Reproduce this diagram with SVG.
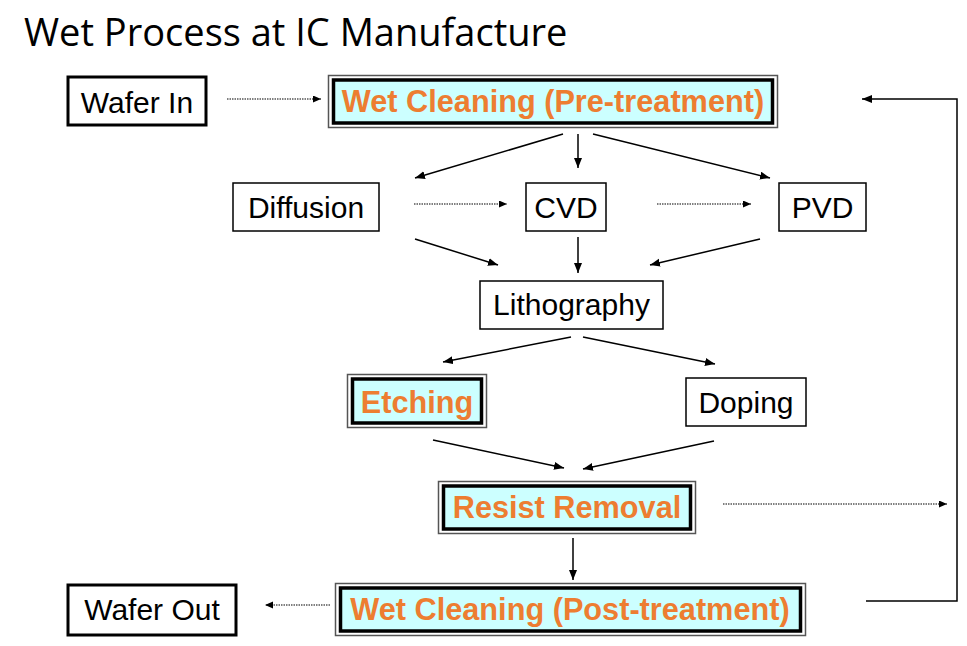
<svg xmlns="http://www.w3.org/2000/svg" width="967" height="646" viewBox="0 0 967 646">
  <style>
    .title { font-family: "Open Sans", "Noto Sans", sans-serif; font-size: 38px; fill: #000; }
    .lbl { font-family: "Liberation Sans", Arial, sans-serif; font-size: 30px; fill: #000; text-anchor: middle; }
    .hl { font-family: "Liberation Sans", Arial, sans-serif; font-size: 30.7px; font-weight: bold; fill: #ED7D31; text-anchor: middle; }
    .box { fill: #fff; stroke: #000; stroke-width: 1.5; }
    .boxb { fill: #fff; stroke: #000; stroke-width: 3; }
    .outer { fill: #fff; stroke: #555; stroke-width: 1.5; }
    .inner { fill: #CCFFFF; stroke: #000; stroke-width: 3.5; }
    .ln { fill: none; stroke: #000; stroke-width: 1.5; marker-end: url(#ah); }
    .dot { fill: none; stroke: #000; stroke-width: 1.2; stroke-dasharray: 1.5 1; marker-end: url(#ahs); }
  </style>
  <defs>
    <marker id="ah" markerUnits="userSpaceOnUse" markerWidth="12" markerHeight="10" refX="10" refY="4" orient="auto">
      <path d="M0,0 L10,4 L0,8 Z" fill="#000"/>
    </marker>
    <marker id="ahs" markerUnits="userSpaceOnUse" markerWidth="12" markerHeight="10" refX="8" refY="3.5" orient="auto">
      <path d="M0,0 L8,3.5 L0,7 Z" fill="#000"/>
    </marker>
  </defs>
  <rect width="967" height="646" fill="#fff"/>
  <text class="title" x="24" y="46">Wet Process at IC Manufacture</text>

  <g id="connectors">
    <line class="dot" x1="227" y1="99" x2="321" y2="99"/>
    <line class="ln" x1="563" y1="134" x2="415" y2="178"/>
    <line class="ln" x1="578" y1="134" x2="578" y2="168"/>
    <line class="ln" x1="593" y1="134" x2="770" y2="178"/>
    <line class="dot" x1="414" y1="204" x2="507" y2="204"/>
    <line class="dot" x1="657" y1="204" x2="751" y2="204"/>
    <line class="ln" x1="415" y1="239" x2="498" y2="265"/>
    <line class="ln" x1="578" y1="237" x2="578" y2="273"/>
    <line class="ln" x1="760" y1="239" x2="650" y2="265"/>
    <line class="ln" x1="571" y1="337" x2="443" y2="362"/>
    <line class="ln" x1="583" y1="337" x2="715" y2="364"/>
    <line class="ln" x1="433" y1="440" x2="564" y2="468"/>
    <line class="ln" x1="714" y1="441" x2="583" y2="469"/>
    <line class="ln" x1="573" y1="538" x2="573" y2="580"/>
    <line class="dot" x1="723" y1="504" x2="947" y2="504"/>
    <line class="dot" x1="330" y1="605" x2="265" y2="605"/>
    <polyline class="ln" points="866,601 957,601 957,99 862,99"/>
  </g>

  <g id="wafer-in">
    <rect class="boxb" x="68" y="77" width="138" height="48"/>
    <text class="lbl" x="137" y="113">Wafer In</text>
  </g>
  <g id="wet-pre">
    <rect class="outer" x="328.5" y="75.5" width="449" height="52"/>
    <rect class="inner" x="333.5" y="80" width="439" height="43"/>
    <text class="hl" x="553" y="112">Wet Cleaning (Pre-treatment)</text>
  </g>
  <g id="diffusion">
    <rect class="box" x="233" y="183" width="146" height="48"/>
    <text class="lbl" x="306" y="218">Diffusion</text>
  </g>
  <g id="cvd">
    <rect class="box" x="526" y="183" width="80" height="48"/>
    <text class="lbl" x="566" y="218">CVD</text>
  </g>
  <g id="pvd">
    <rect class="box" x="779" y="183" width="87" height="48"/>
    <text class="lbl" x="822.5" y="218">PVD</text>
  </g>
  <g id="lithography">
    <rect class="box" x="480" y="281" width="183" height="48"/>
    <text class="lbl" x="571.5" y="315">Lithography</text>
  </g>
  <g id="etching">
    <rect class="outer" x="347.5" y="374.5" width="139" height="53"/>
    <rect class="inner" x="352.5" y="379" width="129" height="44"/>
    <text class="hl" x="417" y="413">Etching</text>
  </g>
  <g id="doping">
    <rect class="box" x="686" y="378" width="120" height="48"/>
    <text class="lbl" x="746" y="413">Doping</text>
  </g>
  <g id="resist-removal">
    <rect class="outer" x="438.5" y="481.5" width="257" height="52"/>
    <rect class="inner" x="443.5" y="486" width="247" height="43"/>
    <text class="hl" x="567" y="518">Resist Removal</text>
  </g>
  <g id="wet-post">
    <rect class="outer" x="335.5" y="583.5" width="470" height="52"/>
    <rect class="inner" x="340.5" y="588" width="460" height="43"/>
    <text class="hl" x="570" y="620">Wet Cleaning (Post-treatment)</text>
  </g>
  <g id="wafer-out">
    <rect class="boxb" x="68" y="585" width="168" height="50"/>
    <text class="lbl" x="152" y="620">Wafer Out</text>
  </g>
</svg>
